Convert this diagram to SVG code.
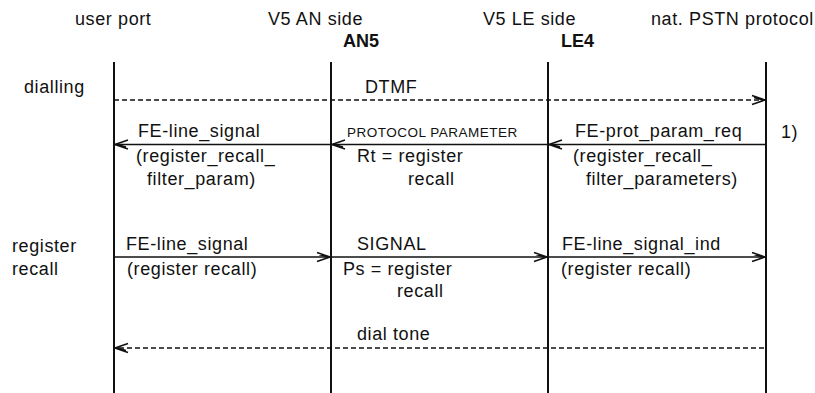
<svg xmlns="http://www.w3.org/2000/svg" width="815" height="393" viewBox="0 0 815 393">
<style>
text{font-family:"Liberation Sans",Arial,sans-serif;font-size:18px;fill:#111;letter-spacing:0.6px}
.b{font-weight:bold;letter-spacing:0}
.sc{font-size:13.5px;letter-spacing:0.5px}
.life{stroke:#111;stroke-width:2;fill:none}
.msg{stroke:#111;stroke-width:1.5;fill:none}
.dash{stroke-dasharray:5 3}
.ah{stroke:#111;stroke-width:1.5;fill:none}
</style>
<defs>
<marker id="arr" markerWidth="16" markerHeight="12" refX="15" refY="6" orient="auto" markerUnits="userSpaceOnUse">
<path class="ah" d="M2,1.5 L15,6 L2,10.5 M4,3.5 L13,6"/>
</marker>
</defs>
<rect width="815" height="393" fill="#fff"/>
<g id="user-port">
<text x="75" y="25">user port</text>
<line class="life" x1="114" y1="62" x2="114" y2="393"/>
</g>
<g id="an5">
<text x="268" y="25">V5 AN side</text>
<text class="b" x="343" y="47">AN5</text>
<line class="life" x1="331" y1="62" x2="331" y2="393"/>
</g>
<g id="le4">
<text x="483" y="25">V5 LE side</text>
<text class="b" x="561" y="47">LE4</text>
<line class="life" x1="548" y1="62" x2="548" y2="393"/>
</g>
<g id="pstn">
<text x="651" y="25">nat. PSTN protocol</text>
<line class="life" x1="766" y1="62" x2="766" y2="393"/>
</g>
<g id="labels">
<text x="24" y="93">dialling</text>
<text x="12" y="252">register</text>
<text x="12" y="275">recall</text>
<text x="781" y="138">1)</text>
</g>
<g id="connectors">
<line class="msg dash" x1="114" y1="100" x2="765" y2="100" marker-end="url(#arr)"/>
<line class="msg" x1="766" y1="144.5" x2="549" y2="144.5" marker-end="url(#arr)"/>
<line class="msg" x1="548" y1="144.5" x2="332" y2="144.5" marker-end="url(#arr)"/>
<line class="msg" x1="331" y1="144.5" x2="115" y2="144.5" marker-end="url(#arr)"/>
<line class="msg" x1="114" y1="257" x2="330" y2="257" marker-end="url(#arr)"/>
<line class="msg" x1="331" y1="257" x2="547" y2="257" marker-end="url(#arr)"/>
<line class="msg" x1="548" y1="257" x2="765" y2="257" marker-end="url(#arr)"/>
<line class="msg dash" x1="764" y1="348" x2="115" y2="348" marker-end="url(#arr)"/>
</g>
<g id="connector-labels">
<text x="365" y="93">DTMF</text>
<text x="138" y="137">FE-line_signal</text>
<text x="136" y="162">(register_recall_</text>
<text x="147" y="185">filter_param)</text>
<text class="sc" x="347" y="137">PROTOCOL PARAMETER</text>
<text x="357" y="162">Rt = register</text>
<text x="408" y="185">recall</text>
<text x="575" y="137">FE-prot_param_req</text>
<text x="573" y="162">(register_recall_</text>
<text x="586" y="185">filter_parameters)</text>
<text x="126" y="250">FE-line_signal</text>
<text x="127" y="275">(register recall)</text>
<text x="357" y="250">SIGNAL</text>
<text x="343" y="275">Ps = register</text>
<text x="397" y="297">recall</text>
<text x="562" y="250">FE-line_signal_ind</text>
<text x="561" y="275">(register recall)</text>
<text x="357" y="340">dial tone</text>
</g>
</svg>
